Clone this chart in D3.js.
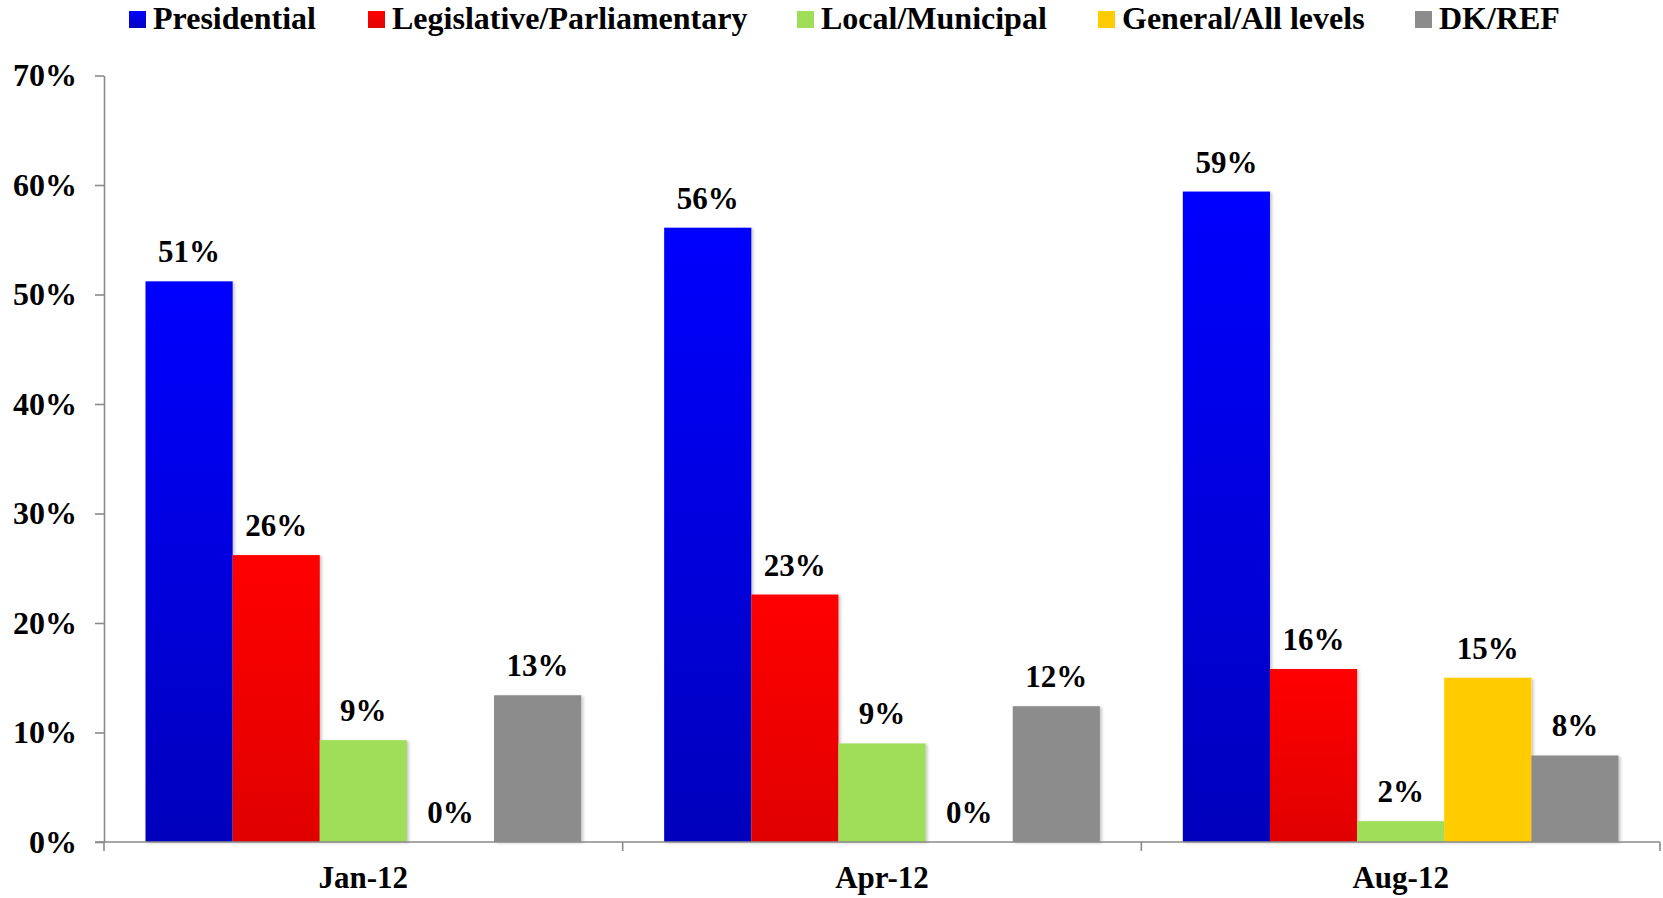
<!DOCTYPE html>
<html>
<head>
<meta charset="utf-8">
<script src="https://cdn.jsdelivr.net/npm/d3@7/dist/d3.min.js"></script>
<style>
  html, body { margin: 0; padding: 0; background: #fff; }
  svg { display: block; }
  text { font-family: "Liberation Serif", "Times New Roman", serif; font-weight: bold; fill: #000; }
</style>
</head>
<body>
<svg id="chart" width="1663" height="898"></svg>
<script>
// Survey waves
const periods = ["Jan-12", "Apr-12", "Aug-12"];
// Answer categories (series)
const seriesNames = ["Presidential", "Legislative/Parliamentary", "Local/Municipal", "General/All levels", "DK/REF"];
// Percentages per series, one value per wave
const presidential = [51.2, 56.1, 59.4];
const legislative  = [26.2, 22.6, 15.8];
const localMunicipal = [9.3, 9.0, 1.9];
const generalAll   = [0, 0, 15.0];
const dkRef        = [13.4, 12.4, 7.9];
// Y axis ticks
const yTicks = [0, 10, 20, 30, 40, 50, 60, 70];

const seriesValues = [presidential, legislative, localMunicipal, generalAll, dkRef];
const fills = ["url(#gradBlue)", "url(#gradRed)", "#A0DE5A", "#FFCC00", "#8C8C8C"];

const svg = d3.select("#chart");
const margin = { left: 104, right: 3 };
const W = 1663;

const defs = svg.append("defs");
function vGrad(id, top, bottom) {
  const g = defs.append("linearGradient").attr("id", id)
    .attr("x1", 0).attr("y1", 0).attr("x2", 0).attr("y2", 1);
  g.append("stop").attr("offset", "0%").attr("stop-color", top);
  g.append("stop").attr("offset", "100%").attr("stop-color", bottom);
}
vGrad("gradBlue", "#0000FF", "#0505BC");
vGrad("gradRed", "#FF0000", "#E00606");
const shadow = defs.append("filter").attr("id", "barShadow")
  .attr("x", "-10%").attr("y", "-10%").attr("width", "130%").attr("height", "120%");
shadow.append("feDropShadow").attr("dx", 2).attr("dy", 1)
  .attr("stdDeviation", 1.5).attr("flood-color", "#000").attr("flood-opacity", 0.22);

const y = d3.scaleLinear().domain([0, 70]).range([842, 75.5]);
const x0 = d3.scaleBand().domain(periods).range([margin.left, W - margin.right]).padding(0);
const gap = x0.bandwidth() * 0.08;
const x1 = d3.scaleBand().domain(seriesNames).range([gap, x0.bandwidth() - gap]).padding(0);

// Bars and value labels
const groups = svg.append("g").selectAll("g").data(periods).join("g")
  .attr("transform", d => `translate(${x0(d)},0)`);

groups.each(function(p, pi) {
  const g = d3.select(this);
  const rows = seriesNames.map((s, si) => ({ s, si, v: seriesValues[si][pi] }));
  g.selectAll("rect").data(rows.filter(r => r.v > 0)).join("rect")
    .attr("x", r => x1(r.s))
    .attr("y", r => y(r.v))
    .attr("width", x1.bandwidth())
    .attr("height", r => y(0) - y(r.v))
    .attr("fill", r => fills[r.si])
    .attr("filter", "url(#barShadow)");
  g.selectAll("text.val").data(rows).join("text")
    .attr("class", "val")
    .attr("x", r => x1(r.s) + x1.bandwidth() / 2)
    .attr("y", r => y(r.v) - 19)
    .attr("text-anchor", "middle")
    .attr("font-size", 31)
    .text(r => Math.round(r.v) + "%");
});

// Axes
const axisColor = "#8a8a8a";
const yAxis = svg.append("g").attr("transform", `translate(${margin.left},0)`)
  .call(d3.axisLeft(y).tickValues(yTicks).tickSize(9).tickSizeOuter(0).tickPadding(18).tickFormat(d => d + "%"));
yAxis.select(".domain").attr("stroke", axisColor).attr("stroke-width", 1.6);
yAxis.selectAll(".tick line").attr("stroke", axisColor).attr("stroke-width", 1.6);
yAxis.selectAll(".tick text").attr("font-size", 32).attr("font-family", "Liberation Serif, Times New Roman, serif")
  .attr("font-weight", "bold").attr("fill", "#000").attr("dy", "0.32em");

const xAxis = svg.append("g").attr("transform", `translate(0,${y(0)})`);
xAxis.append("line").attr("x1", margin.left - 9).attr("x2", W - margin.right)
  .attr("stroke", axisColor).attr("stroke-width", 1.6);
const bounds = periods.map(p => x0(p)).concat([x0(periods[periods.length - 1]) + x0.bandwidth()]);
xAxis.selectAll("line.tk").data(bounds).join("line").attr("class", "tk")
  .attr("x1", d => d).attr("x2", d => d).attr("y1", 0).attr("y2", 9)
  .attr("stroke", axisColor).attr("stroke-width", 1.6);
xAxis.selectAll("text").data(periods).join("text")
  .attr("x", d => x0(d) + x0.bandwidth() / 2)
  .attr("y", 46)
  .attr("text-anchor", "middle")
  .attr("font-size", 31)
  .text(d => d);

// Legend
const legendX = [129, 368, 797, 1098, 1415];
const legend = svg.append("g").selectAll("g").data(seriesNames).join("g")
  .attr("transform", (d, i) => `translate(${legendX[i]},0)`);
legend.append("rect").attr("x", 0).attr("y", 11).attr("width", 17).attr("height", 17)
  .attr("fill", (d, i) => fills[i]);
legend.append("text").attr("x", 24).attr("y", 29).attr("font-size", 32).text(d => d);
</script>
</body>
</html>
